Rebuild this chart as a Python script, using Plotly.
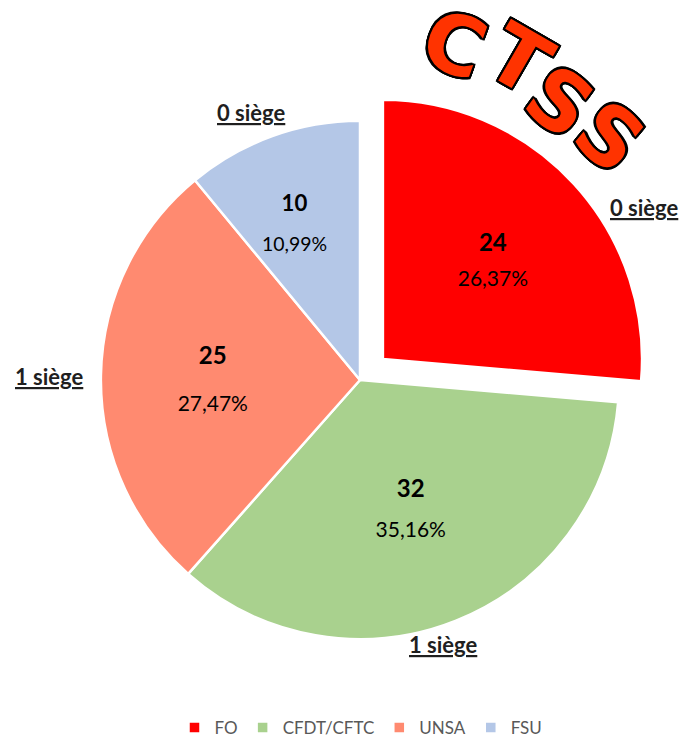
import plotly.graph_objects as go

labels = ["FO", "CFDT/CFTC", "UNSA", "FSU"]
values = [24, 32, 25, 10]
colors = ["#FF0000", "#A9D18E", "#FF8A70", "#B4C7E7"]
pulls = [0.12, 0, 0, 0]
sieges = ["0 siège", "1 siège", "1 siège", "0 siège"]
siege_pos = [(636, 200), (435, 638), (41, 369), (243, 105)]
title_letters = ["C", "T", "S", "S"]
title_pos = [(446, 37), (511, 52), (551, 94), (601, 129)]
title_angles = [20, 30, 36, 40]

W, H = 696, 738
# parent size per slice sets the gap between the two label lines
label_line_size = [27, 31, 36, 33]
base_tpl = "<span style='font-size:24px'><b>%{value}</b></span><br><span style='font-size:21px'>%{percent:.2%}</span>"
# FSU label sits lower in its slice: a blank first line pushes it down
templates = [base_tpl, base_tpl, base_tpl, "\u00a0<br>" + base_tpl]

fig = go.Figure(go.Pie(
    labels=labels,
    values=values,
    marker=dict(colors=colors, line=dict(color="white", width=2.5)),
    pull=pulls,
    sort=False,
    direction="clockwise",
    rotation=0,
    textinfo="none",
    texttemplate=templates,
    textposition="inside",
    insidetextorientation="horizontal",
    textfont=dict(family="Lato", size=label_line_size, color="#000000"),
    domain=dict(x=[61 / W, 643 / W], y=[1 - 664 / H, 1 - 82 / H]),
    hoverinfo="label+value+percent",
))

annotations = []
for txt, (px, py) in zip(sieges, siege_pos):
    annotations.append(dict(
        text="<b>" + txt + "</b>", x=px / W, y=1 - py / H, xref="paper", yref="paper",
        showarrow=False, xanchor="center", yanchor="middle",
        font=dict(family="Lato", size=22, color="#1F1F1F", lineposition="under"),
    ))

outline = ",".join(f"{dx}px {dy}px 0 #000" for dx in (-2, -1, 0, 1, 2) for dy in (-2, -1, 0, 1, 2) if (dx, dy) != (0, 0))
for ch, (px, py), ang in zip(title_letters, title_pos, title_angles):
    annotations.append(dict(
        text="<b>" + ch + "</b>", x=px / W, y=1 - py / H, xref="paper", yref="paper",
        showarrow=False, xanchor="center", yanchor="middle", textangle=ang,
        font=dict(family="DejaVu Sans", size=82, color="#FF3300", shadow=outline),
    ))

fig.update_layout(
    width=W, height=H,
    margin=dict(l=0, r=0, t=0, b=0),
    paper_bgcolor="white",
    plot_bgcolor="white",
    separators=", ",
    showlegend=True,
    legend=dict(orientation="h", x=353 / W, xanchor="center", y=(H - 722) / H, yanchor="middle",
                font=dict(family="Lato", size=17, color="#595959"), itemwidth=30),
    annotations=annotations,
)

fig.write_html("out.html")
